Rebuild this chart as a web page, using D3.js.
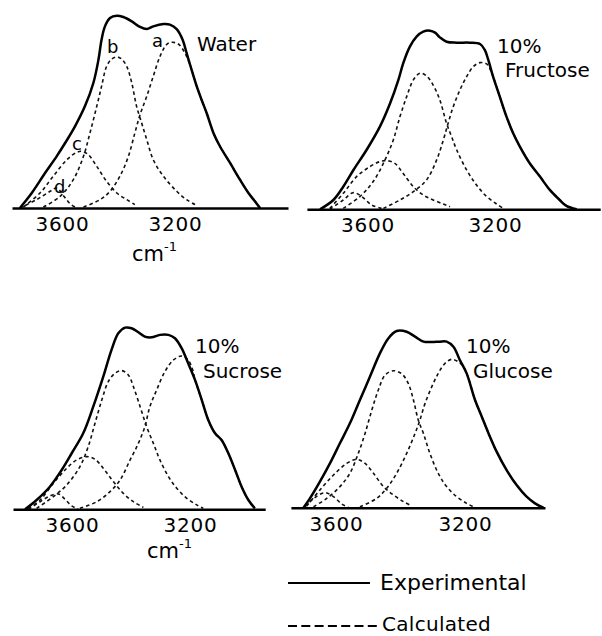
<!DOCTYPE html>
<html>
<head>
<meta charset="utf-8">
<script src="https://cdn.jsdelivr.net/npm/d3@7"></script>
<style>
  html, body { margin: 0; padding: 0; background: #fff; }
  svg { display: block; }
</style>
</head>
<body>
<svg id="chart" width="602" height="636"></svg>
<script>
// Infrared O-H stretching band: [wavenumber cm-1, relative absorbance]
const tickValues = [3600, 3200];
const componentNames = ["a", "b", "c", "d"];

// Wavenumber spans covered by each baseline
const waterSpan = [3777, 2800];
const fructoseSpan = [3790, 2870];
const sucroseSpan = [3800, 2945];
const glucoseSpan = [3740, 2952];

// ---- Water ----
const waterExp = [[3749,0],[3707,7.9],[3660,18.4],[3619,27.2],[3589,34.2],[3554,43],[3519,53.5],[3489,65.8],[3471,78],[3460,88.6],[3448,95.6],[3430,100],[3406,101.2],[3383,100.5],[3353,98.2],[3324,95.3],[3300,94.2],[3277,95.6],[3241,96.8],[3218,96.5],[3194,94.2],[3173,88.6],[3159,81.6],[3145,74.6],[3123,64],[3106,57],[3088,50],[3064,39.5],[3041,32.5],[3005,23.7],[2970,14.9],[2940,7.9],[2917,3.5],[2899,0]];
const waterA = [[3524,0.5],[3465,4.4],[3430,8.8],[3395,16.7],[3365,27.2],[3342,39.5],[3324,49],[3300,58.8],[3277,69.3],[3253,79.8],[3230,86],[3212,87.2],[3188,86.3],[3165,81.6],[3145,74.6],[3123,64],[3106,57],[3088,50],[3064,39.5],[3041,32.5],[3005,23.7],[2970,14.9],[2940,7.9],[2917,3.5],[2899,0]];
const waterB = [[3666,0.5],[3607,6.1],[3560,14.9],[3524,27.2],[3501,39.5],[3477,53.5],[3460,64],[3442,74.6],[3424,78.4],[3406,79.5],[3389,78.4],[3371,74.6],[3353,65.8],[3336,53.5],[3318,44.7],[3300,36],[3277,25.4],[3241,16.7],[3194,8.8],[3159,4.4],[3129,1.8]];
const waterC = [[3737,0.5],[3678,7.9],[3631,16.7],[3583,25.4],[3548,29.3],[3530,29.8],[3507,28.1],[3477,21.9],[3442,14],[3406,7.9],[3371,4.4],[3342,1.8]];
const waterD = [[3749,0],[3690,4.4],[3642,8.8],[3619,10.5],[3595,6.5],[3572,2.3],[3554,0.5]];

// ---- 10% Fructose ----
const fructoseExp = [[3749,0],[3707,4.9],[3676,11.9],[3644,20.7],[3603,31.2],[3561,43.5],[3529,55.8],[3503,68.1],[3488,76.8],[3467,85.6],[3446,90.9],[3425,93.5],[3404,94],[3388,93],[3373,90.5],[3352,88.2],[3320,87.7],[3279,87.7],[3247,87],[3232,83.9],[3221,78.6],[3206,69.8],[3185,59.3],[3164,48.8],[3143,40],[3122,33],[3091,24.2],[3059,17.2],[3028,10.2],[2997,4.9],[2976,1.8],[2944,0]];
const fructoseA = [[3550,0.5],[3498,4.9],[3456,9.3],[3415,15.4],[3383,26],[3362,36.5],[3347,45.3],[3331,54],[3310,62.8],[3289,69.8],[3268,75.1],[3247,77.2],[3226,76.5],[3211,72],[3195,64.5],[3185,59.3],[3164,48.8],[3143,40],[3122,33],[3091,24.2],[3059,17.2],[3028,10.2],[2997,4.9],[2976,1.8],[2944,0]];
const fructoseB = [[3676,0.5],[3624,6.7],[3582,14.6],[3545,26],[3519,36.5],[3498,48.8],[3477,59.3],[3456,68.1],[3435,71.6],[3415,70.2],[3394,65.4],[3373,57.5],[3352,45.3],[3336,38.2],[3320,31.2],[3289,20.7],[3258,12.8],[3226,6.7],[3195,2.8],[3174,0.5]];
const fructoseC = [[3718,0.5],[3676,8.4],[3634,17.2],[3592,22.5],[3561,25.1],[3540,25.6],[3514,24.2],[3488,18.9],[3456,11.9],[3425,7.5],[3394,4.9],[3362,2.8],[3341,1.4]];
const fructoseD = [[3718,0],[3676,4.9],[3644,8.8],[3618,6.7],[3587,2.3],[3556,0.5]];

// ---- 10% Sucrose ----
const sucroseExp = [[3759,0],[3720,4.9],[3675,11.9],[3635,20.7],[3601,29.5],[3562,40],[3528,54],[3494,69.8],[3466,83.9],[3443,92.6],[3420,95.6],[3398,95.3],[3375,93.2],[3353,90.9],[3330,90.5],[3302,91.8],[3273,91.8],[3251,90],[3228,84.7],[3206,76.8],[3183,68.1],[3160,57.5],[3138,47],[3115,40],[3093,36.5],[3070,29.5],[3047,20.7],[3025,11.9],[3002,4.9],[2980,0.5]];
const sucroseA = [[3573,0.5],[3516,4],[3471,9.3],[3437,15.4],[3403,26],[3375,34.7],[3353,43.5],[3336,54],[3313,62.8],[3285,72.5],[3256,78.6],[3228,80.7],[3206,78.5],[3190,73],[3183,68.1],[3160,57.5],[3138,47],[3115,40],[3093,36.5],[3070,29.5],[3047,20.7],[3025,11.9],[3002,4.9],[2980,0.5]];
const sucroseB = [[3720,0.5],[3663,6.7],[3618,12.8],[3573,22.5],[3545,33],[3522,45.3],[3499,57.5],[3477,67.2],[3454,71.6],[3432,73],[3409,70.7],[3392,64.6],[3369,54],[3347,43.5],[3324,34.7],[3302,26],[3273,17.2],[3245,11.1],[3211,5.8],[3177,2.3],[3155,0.5]];
const sucroseC = [[3748,0.5],[3708,4.9],[3663,13.7],[3618,21.6],[3584,26],[3550,27.7],[3522,26.3],[3494,21.6],[3460,14.6],[3426,8.4],[3392,4],[3358,1]];
const sucroseD = [[3748,0],[3708,4],[3675,7],[3646,8.1],[3624,5.3],[3601,1.8],[3579,0.2]];

// ---- 10% Glucose ----
const glucoseExp = [[3701,0],[3681,4.9],[3650,13.7],[3619,23.3],[3588,33.9],[3557,44.4],[3526,56.7],[3495,68.9],[3464,81.2],[3438,89.1],[3412,93],[3381,92.6],[3355,90],[3329,87.4],[3303,87.2],[3278,87.4],[3257,87.4],[3236,84.7],[3216,77.7],[3195,70.7],[3169,56.7],[3148,47.9],[3127,39.1],[3102,29.5],[3071,19.8],[3040,11.9],[3009,5.8],[2983,2.3],[2957,0]];
const glucoseA = [[3526,0.5],[3474,4.9],[3443,10.2],[3412,18.1],[3381,28.6],[3355,39.1],[3340,46.1],[3324,54.9],[3303,63.7],[3283,70.7],[3262,76],[3241,78.1],[3221,76.8],[3205,74.2],[3190,68.5],[3169,56.7],[3148,47.9],[3127,39.1],[3102,29.5],[3071,19.8],[3040,11.9],[3009,5.8],[2983,2.3],[2957,0]];
const glucoseB = [[3670,0.5],[3629,4.9],[3588,11.1],[3557,18.1],[3531,28.6],[3510,39.1],[3489,51.4],[3469,61.9],[3448,69.8],[3422,72.1],[3396,70.4],[3376,65.4],[3360,56.7],[3345,46.1],[3329,39.1],[3309,28.6],[3283,18.1],[3257,11.1],[3226,5.8],[3195,2.3],[3174,0.5]];
const glucoseC = [[3691,0.9],[3650,9.3],[3608,17.2],[3567,23.3],[3536,25.4],[3510,23.3],[3484,18.1],[3453,11.1],[3422,6.7],[3391,3.2],[3365,0.9]];
const glucoseD = [[3696,0.5],[3665,5.4],[3634,7.9],[3608,5.8],[3582,1.9],[3562,0.2]];

const legendLabels = ["Experimental", "Calculated"];

// ---------------------------------------------------------------
const FONT = "'DejaVu Sans', 'Open Sans', sans-serif";
const svg = d3.select("#chart");

const panels = [
  { title: ["Water"], exp: waterExp, comps: [waterA, waterB, waterC, waterD], span: waterSpan,
    x0: 12, x1: 288, base: 208, titleX: [197], titleY: [51], unit: { x: 132, y: 261 },
    letters: [[152, 47], [107, 53], [72, 150], [54, 193]] },
  { title: ["10%", "Fructose"], exp: fructoseExp, comps: [fructoseA, fructoseB, fructoseC, fructoseD], span: fructoseSpan,
    x0: 306.9, x1: 600.2, base: 209.3, titleX: [497, 505], titleY: [53, 77] },
  { title: ["10%", "Sucrose"], exp: sucroseExp, comps: [sucroseA, sucroseB, sucroseC, sucroseD], span: sucroseSpan,
    x0: 13, x1: 265.2, base: 509.3, titleX: [195, 203], titleY: [353, 378], unit: { x: 147, y: 558 } },
  { title: ["10%", "Glucose"], exp: glucoseExp, comps: [glucoseA, glucoseB, glucoseC, glucoseD], span: glucoseSpan,
    x0: 290.9, x1: 545, base: 507.7, titleX: [466, 473], titleY: [353, 378] }
];

panels.forEach(p => {
  const x = d3.scaleLinear().domain(p.span).range([p.x0, p.x1]);
  const y = d3.scaleLinear().domain([0, 100]).range([p.base, p.base - 190]);
  const line = d3.line()
    .x(d => x(d[0]))
    .y(d => y(d[1]))
    .curve(d3.curveCatmullRom.alpha(0.5));

  const g = svg.append("g");

  // calculated band components
  g.selectAll("path.comp")
    .data(p.comps)
    .join("path")
    .attr("class", "comp")
    .attr("d", line)
    .attr("fill", "none")
    .attr("stroke", "#111")
    .attr("stroke-width", 1.6)
    .attr("stroke-dasharray", "3.5,3");

  // experimental band
  g.append("path")
    .datum(p.exp)
    .attr("d", line)
    .attr("fill", "none")
    .attr("stroke", "#000")
    .attr("stroke-width", 2.5)
    .attr("stroke-linejoin", "round");

  // wavenumber axis
  const axis = d3.axisBottom(x).tickValues(tickValues).tickSize(0).tickSizeOuter(0).tickFormat(d3.format("d"));
  const ag = g.append("g").attr("transform", `translate(0,${p.base})`).call(axis);
  ag.select(".domain").attr("stroke", "#000").attr("stroke-width", 2.4);
  ag.selectAll("text")
    .attr("y", 23).attr("dy", null)
    .attr("font-family", FONT).attr("font-size", 20).attr("fill", "#000")
    .attr("letter-spacing", 0.8);

  // unit label
  if (p.unit) {
    const t = g.append("text")
      .attr("x", p.unit.x).attr("y", p.unit.y)
      .attr("font-family", FONT).attr("font-size", 21).attr("fill", "#000")
      .text("cm");
    t.append("tspan").attr("dy", -10).attr("font-size", 13).text("-1");
  }

  // sample title
  p.title.forEach((s, i) => {
    g.append("text")
      .attr("x", p.titleX[i]).attr("y", p.titleY[i])
      .attr("font-family", FONT).attr("font-size", 20).attr("fill", "#000")
      .text(s);
  });

  // component letters
  if (p.letters) {
    componentNames.forEach((n, i) => {
      g.append("text")
        .attr("x", p.letters[i][0]).attr("y", p.letters[i][1])
        .attr("font-family", FONT).attr("font-size", 18).attr("fill", "#000")
        .text(n);
    });
  }
});

// legend
const legend = svg.append("g");
legend.append("line").attr("x1", 288).attr("x2", 370).attr("y1", 583).attr("y2", 583)
  .attr("stroke", "#000").attr("stroke-width", 2);
legend.append("line").attr("x1", 288).attr("x2", 377).attr("y1", 626).attr("y2", 626)
  .attr("stroke", "#000").attr("stroke-width", 2).attr("stroke-dasharray", "9,4.3");
legend.append("text").attr("x", 380).attr("y", 590)
  .attr("font-family", FONT).attr("font-size", 22).attr("fill", "#000").text(legendLabels[0]);
legend.append("text").attr("x", 382).attr("y", 631)
  .attr("font-family", FONT).attr("font-size", 20).attr("letter-spacing", 0.3)
  .attr("fill", "#000").text(legendLabels[1]);
</script>
</body>
</html>
